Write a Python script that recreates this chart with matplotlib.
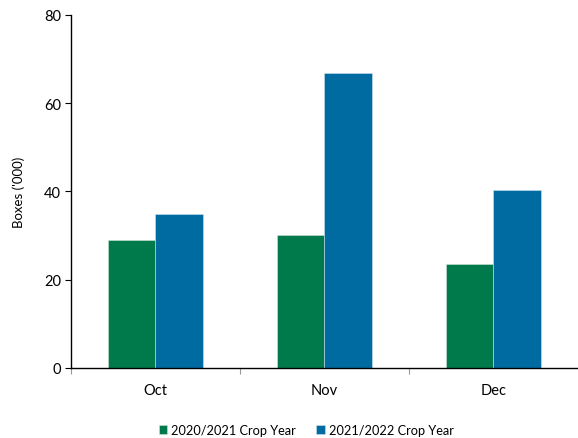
import numpy as np
import matplotlib
matplotlib.use("Agg")
import matplotlib.pyplot as plt

plt.rcParams['font.family'] = ['Lato', 'DejaVu Sans']

# monthly shipments, thousands of boxes
months = ["Oct", "Nov", "Dec"]
crop_2021 = [29.0, 30.1, 23.6]
crop_2022 = [34.9, 66.9, 40.3]
series_names = ["2020/2021 Crop Year", "2021/2022 Crop Year"]

green = "#007a4b"
blue = "#006ba1"

fig = plt.figure(figsize=(5.78, 4.39), dpi=100)
ax = fig.add_axes([0.1228, 0.1595, 0.877, 0.8041])

x = np.arange(len(months))
w = 0.282
ax.bar(x - w / 2, crop_2021, w, color=green, edgecolor="#cfe3d8", linewidth=0.4, label=series_names[0])
ax.bar(x + w / 2, crop_2022, w, color=blue, edgecolor="#cfe0ea", linewidth=0.4, label=series_names[1])

ax.set_xlim(-0.5, 2.5)
ax.set_ylim(0, 80)
ax.set_yticks([0, 20, 40, 60, 80])
ax.set_xticks(x)
ax.set_xticklabels(months)
ax.set_xticks([-0.5, 0.5, 1.5], minor=True)
ax.tick_params(axis='x', which='major', length=0, pad=11, labelsize=10.5)
ax.tick_params(axis='x', which='minor', length=4, width=0.8, color="#999999", direction='out')
ax.tick_params(axis='y', length=4, width=0.8, labelsize=10.5, pad=3)

for s in ["top", "right"]:
    ax.spines[s].set_visible(False)
ax.spines["left"].set_linewidth(1.0)
ax.spines["bottom"].set_linewidth(1.0)

ax.set_ylabel("Boxes ('000)", fontsize=9.5, labelpad=14)

fig.legend(loc="center", bbox_to_anchor=(0.53, 0.018), ncol=2, frameon=False,
           fontsize=9.2, handlelength=0.65, handleheight=0.65, handletextpad=0.3, columnspacing=1.6)

fig.savefig("out.png", dpi=100)
